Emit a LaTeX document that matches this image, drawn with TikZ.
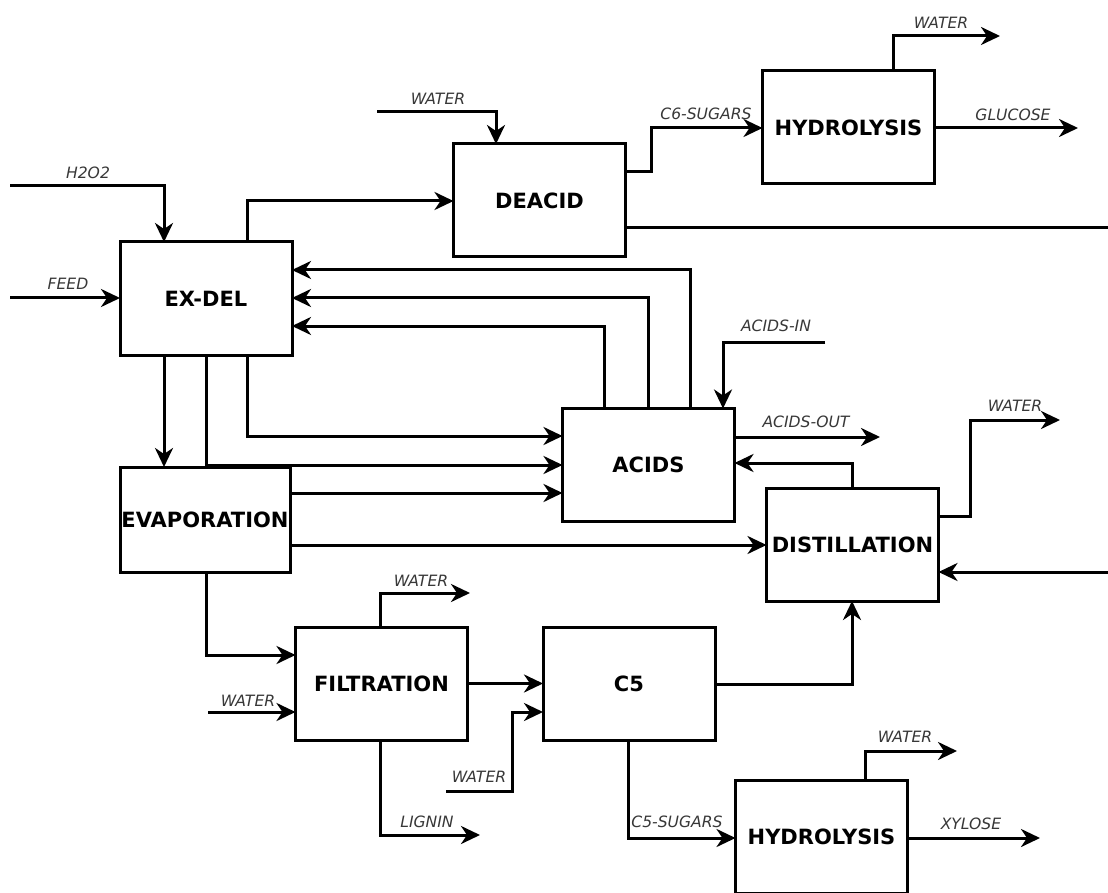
\documentclass[tikz,border=0pt]{standalone}
\usepackage{fontspec}
\setmainfont{DejaVu Sans}
\usetikzlibrary{arrows.meta}
\begin{document}
\begin{tikzpicture}[x=0.5pt,y=-0.5pt,
  box/.style={draw, line width=1.5pt, inner sep=0pt, outer sep=0pt,
    minimum width=86pt, minimum height=56.5pt,
    font=\fontsize{10.5}{11}\selectfont\bfseries},
  flow/.style={line width=1.5pt},
  arr/.style={flow, -{Stealth[length=9.5pt,width=9pt,inset=3pt]}},
  lbl/.style={font=\fontsize{7.8}{8}\selectfont\itshape, text=black!78, inner sep=0pt}]
\fill[white] (0,0) rectangle (1108,893);
\useasboundingbox (0,0) rectangle (1108,893);

% process units
\node[box] (exdel) at (206,298.5) {EX-DEL};
\node[box] (deacid) at (539.5,200.5) {DEACID};
\node[box] (hyd1) at (848.5,127.5) {HYDROLYSIS};
\node[box] (acids) at (648.5,465) {ACIDS};
\node[box, minimum width=85pt, minimum height=52.5pt] (evap) at (205,519.5) {EVAPORATION};
\node[box] (dist) at (852.5,544.5) {DISTILLATION};
\node[box] (filt) at (381.5,683.5) {FILTRATION};
\node[box] (cfive) at (629,683.5) {C5};
\node[box] (hyd2) at (821.5,836.5) {HYDROLYSIS};

% free ends of feed and product streams
\coordinate (h2o2in) at (10,186);
\coordinate (feedin) at (10,298);
\coordinate (wdeacid) at (377,112);
\coordinate (wtopout) at (1000,36);
\coordinate (glucose) at (1078,128);
\coordinate (acidsin) at (825,342);
\coordinate (acidsout) at (880,437);
\coordinate (wdistout) at (1060,420);
\coordinate (edgeout) at (1108,228);
\coordinate (edgein) at (1108,572);
\coordinate (wfiltin) at (208,712);
\coordinate (wfiltout) at (470,593);
\coordinate (lignin) at (480,835);
\coordinate (wcfive) at (446,791);
\coordinate (wbotout) at (957,751);
\coordinate (xylose) at (1040,838);

% bend points
\coordinate (b1) at (164,186);
\coordinate (b2) at (247,201);
\coordinate (b3) at (496,112);
\coordinate (b4) at (651,172);
\coordinate (b5) at (651,128);
\coordinate (b6) at (893,36);
\coordinate (r1) at (604,326);
\coordinate (r2) at (648,298);
\coordinate (r3) at (690,270);
\coordinate (b7) at (723,342);
\coordinate (b8) at (852,463);
\coordinate (b9) at (970,516);
\coordinate (b10) at (970,420);
\coordinate (d1) at (164,400);
\coordinate (d2) at (206,465);
\coordinate (d3) at (247,436);
\coordinate (e1) at (290,493);
\coordinate (e2) at (290,545);
\coordinate (e3) at (206,655);
\coordinate (f1) at (380,593);
\coordinate (f2) at (380,835);
\coordinate (c1) at (512,791);
\coordinate (c2) at (512,712);
\coordinate (c3) at (852,684);
\coordinate (c4) at (628,838);
\coordinate (h1) at (865,751);

% inputs to EX-DEL
\draw[arr] (h2o2in) -- (b1) -- (b1 |- exdel.north);
\draw[arr] (feedin) -- (feedin -| exdel.west);
\node[lbl] (t1) at (88,173) {H2O2};
\node[lbl] (t2) at (68,284) {FEED};

% EX-DEL to DEACID
\draw[arr] (b2 |- exdel.north) -- (b2) -- (b2 -| deacid.west);
\draw[arr] (wdeacid) -- (b3) -- (b3 |- deacid.north);
\node[lbl] (t3) at (438,99) {WATER};

% DEACID to HYDROLYSIS
\draw[arr] (b4 -| deacid.east) -- (b4) -- (b5) -- (b5 -| hyd1.west);
\node[lbl] (t4) at (706,114) {C6-SUGARS};
\draw[arr] (b6 |- hyd1.north) -- (b6) -- (wtopout);
\node[lbl] (t5) at (941,23) {WATER};
\draw[arr] (glucose -| hyd1.east) -- (glucose);
\node[lbl] (t6) at (1013,115) {GLUCOSE};
\draw[flow] (edgeout -| deacid.east) -- (edgeout);

% recycles from ACIDS to EX-DEL
\draw[arr] (r1 |- acids.north) -- (r1) -- (r1 -| exdel.east);
\draw[arr] (r2 |- acids.north) -- (r2) -- (r2 -| exdel.east);
\draw[arr] (r3 |- acids.north) -- (r3) -- (r3 -| exdel.east);

% ACIDS streams
\draw[arr] (acidsin) -- (b7) -- (b7 |- acids.north);
\node[lbl] (t7) at (776,326) {ACIDS-IN};
\draw[arr] (acidsout -| acids.east) -- (acidsout);
\node[lbl] (t8) at (806,422) {ACIDS-OUT};
\draw[arr] (b8 |- dist.north) -- (b8) -- (b8 -| acids.east);

% DISTILLATION streams
\draw[arr] (b9 -| dist.east) -- (b9) -- (b10) -- (wdistout);
\node[lbl] (t9) at (1015,406) {WATER};
\draw[arr] (edgein) -- (edgein -| dist.east);

% EX-DEL bottom outlets
\draw[arr] (d1 |- exdel.south) -- (d1 |- evap.north);
\draw[arr] (d2 |- exdel.south) -- (d2) -- (d2 -| acids.west);
\draw[arr] (d3 |- exdel.south) -- (d3) -- (d3 -| acids.west);

% EVAPORATION outlets
\draw[arr] (e1 -| evap.east) -- (e1 -| acids.west);
\draw[arr] (e2 -| evap.east) -- (e2 -| dist.west);
\draw[arr] (e3 |- evap.south) -- (e3) -- (e3 -| filt.west);

% FILTRATION streams
\draw[arr] (wfiltin) -- (wfiltin -| filt.west);
\node[lbl] (t10) at (248,701) {WATER};
\draw[arr] (f1 |- filt.north) -- (f1) -- (wfiltout);
\node[lbl] (t11) at (421,581) {WATER};
\draw[arr] (f2 |- filt.south) -- (f2) -- (lignin);
\node[lbl] (t12) at (427,822) {LIGNIN};
\draw[arr] (filt.east) -- (cfive.west);

% C5 streams
\draw[arr] (wcfive) -- (c1) -- (c2) -- (c2 -| cfive.west);
\node[lbl] (t13) at (479,777) {WATER};
\draw[arr] (c3 -| cfive.east) -- (c3) -- (c3 |- dist.south);
\draw[arr] (c4 |- cfive.south) -- (c4) -- (c4 -| hyd2.west);
\node[lbl] (t14) at (677,822) {C5-SUGARS};

% second HYDROLYSIS
\draw[arr] (h1 |- hyd2.north) -- (h1) -- (wbotout);
\node[lbl] (t15) at (905,737) {WATER};
\draw[arr] (xylose -| hyd2.east) -- (xylose);
\node[lbl] (t16) at (971,824) {XYLOSE};
\end{tikzpicture}
\end{document}
